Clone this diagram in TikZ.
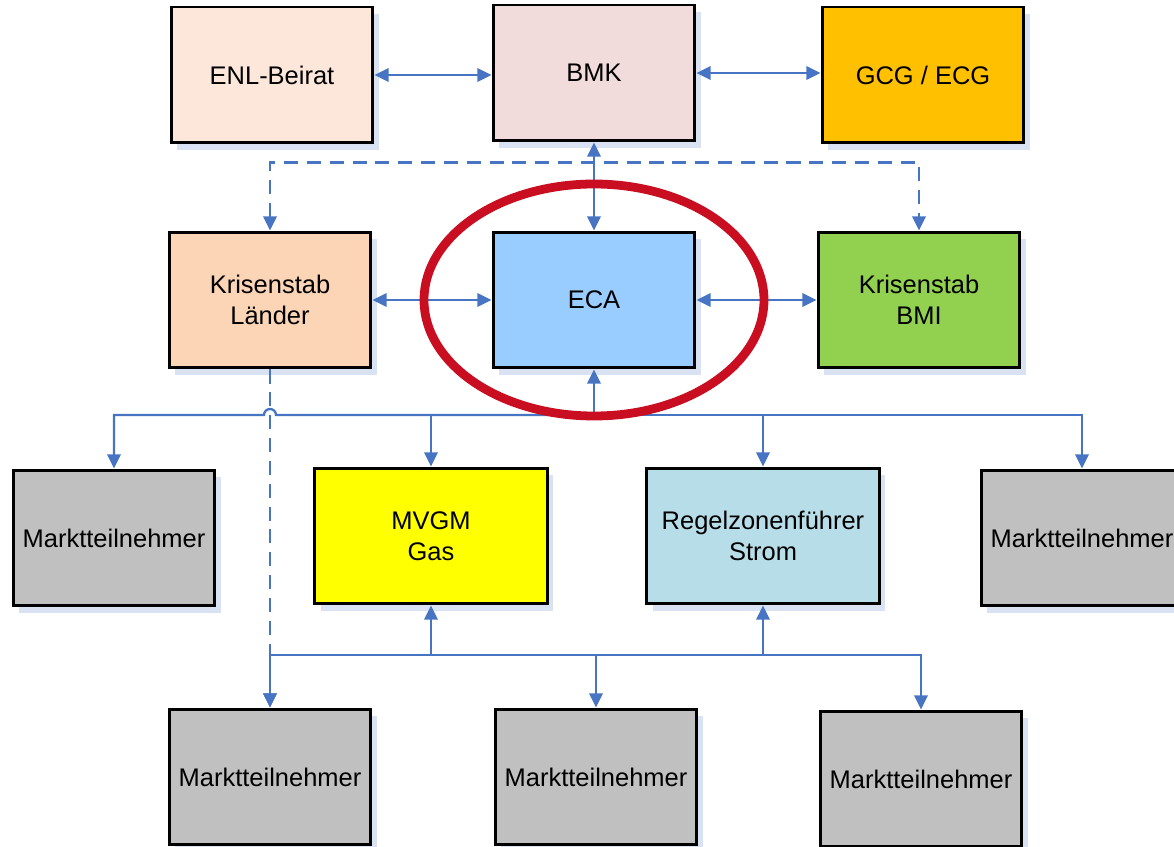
\documentclass[tikz,border=0pt]{standalone}
\usepackage{fontspec}
\setmainfont{Liberation Sans}
\usetikzlibrary{arrows.meta,shadows}

\definecolor{linkblue}{RGB}{72,116,196}
\definecolor{shadowblue}{RGB}{217,226,242}
\definecolor{enlcol}{RGB}{252,231,218}
\definecolor{bmkcol}{RGB}{242,220,219}
\definecolor{gcgcol}{RGB}{255,192,0}
\definecolor{landcol}{RGB}{251,213,181}
\definecolor{ecacol}{RGB}{153,204,255}
\definecolor{bmicol}{RGB}{146,208,80}
\definecolor{teilcol}{RGB}{192,192,192}
\definecolor{mvgmcol}{RGB}{255,255,0}
\definecolor{rzfcol}{RGB}{183,222,232}
\definecolor{ringred}{RGB}{200,14,32}

\tikzset{
  box/.style={draw=black, line width=1.7pt, minimum width=4.04cm, minimum height=2.72cm,
    inner sep=2pt, align=center, font=\fontsize{14.5}{17.5}\selectfont,
    drop shadow={shadow xshift=0.12cm, shadow yshift=-0.14cm, fill=shadowblue, opacity=1}},
  widebox/.style={box, minimum width=4.66cm},
  link/.style={draw=linkblue, line width=1.3pt},
  oneway/.style={link, -{Triangle[length=8pt,width=7.5pt]}},
  twoway/.style={link, {Triangle[length=8pt,width=7.5pt]}-{Triangle[length=8pt,width=7.5pt]}},
  dashlink/.style={dash pattern=on 8pt off 5pt},
}

\begin{document}
\begin{tikzpicture}[x=0.02cm,y=-0.02cm]
  \clip (0,0) rectangle (1174,847);

  % top row
  \node[box, fill=enlcol] (enl) at (272,75) {ENL-Beirat};
  \node[box, fill=bmkcol] (bmk) at (594,73) {BMK};
  \node[box, fill=gcgcol] (gcg) at (923,75) {GCG / ECG};

  % crisis row
  \node[box, fill=landcol] (lander) at (270,300) {Krisenstab\\Länder};
  \node[box, fill=ecacol] (eca) at (594,300) {ECA};
  \node[box, fill=bmicol] (bmi) at (919,300) {Krisenstab\\BMI};

  % operators
  \node[box, fill=teilcol] (teilA) at (114,538) {Marktteilnehmer};
  \node[widebox, fill=mvgmcol] (mvgm) at (431,536) {MVGM\\Gas};
  \node[widebox, fill=rzfcol] (rzf) at (763,536) {Regelzonenführer\\Strom};
  \node[box, fill=teilcol] (teilB) at (1082,538) {Marktteilnehmer};

  % bottom row
  \node[box, fill=teilcol] (teilC) at (270,777) {Marktteilnehmer};
  \node[box, fill=teilcol] (teilD) at (596,777) {Marktteilnehmer};
  \node[box, fill=teilcol] (teilE) at (921,779) {Marktteilnehmer};

  \coordinate (busUp) at (594,415);
  \coordinate (busDown) at (596,655);

  % links
  \draw[twoway] (enl) -- (enl -| bmk.west);
  \draw[twoway] (gcg.west |- bmk) -- (bmk);
  \draw[twoway] (lander) -- (eca);
  \draw[twoway] (eca) -- (bmi);
  \draw[twoway] (bmk) -- (eca);
  \draw[twoway, dashlink] (lander.north) -- ++(0,-68) -| (bmi.north);

  \draw[oneway] (busUp) -- (eca.south);
  \draw[oneway] (busUp) -| (mvgm.north);
  \draw[oneway] (busUp) -| (rzf.north);
  \draw[oneway] (busUp) -| (teilB.north);
  \draw[oneway] (busUp) -- (276,415) arc[start angle=0, end angle=180, radius=0.12cm] -| (teilA.north);

  \draw[oneway, dashlink] (lander.south) -- (teilC.north);
  \draw[oneway] (busDown) -| (teilC.north);
  \draw[oneway] (busDown) -- (teilD.north);
  \draw[oneway] (busDown) -| (teilE.north);
  \draw[oneway] (busDown) -| (mvgm.south);
  \draw[oneway] (busDown) -| (rzf.south);

  % highlight
  \draw[ringred, line width=5pt] (eca.center) ellipse [x radius=170, y radius=116];
\end{tikzpicture}
\end{document}
